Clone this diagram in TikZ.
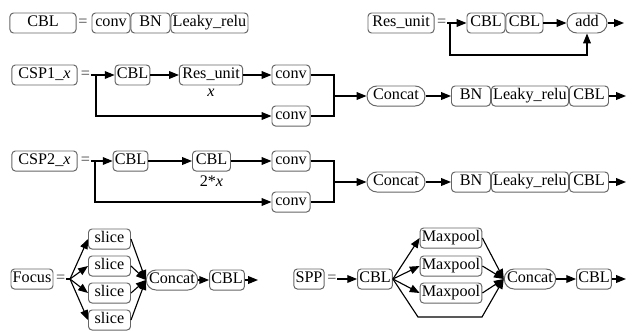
\documentclass[tikz,border=0pt]{standalone}
\usepackage{fontspec}
\setmainfont{Liberation Serif}
\usepackage{tikz}
\usetikzlibrary{arrows.meta, positioning, calc}

\begin{document}
\begin{tikzpicture}[x=0.025cm,y=-0.025cm,line width=.8pt,>={Triangle[length=7pt,width=5.5pt]},
    font=\fontsize{11.5}{13}\selectfont,
    blk/.style={draw=black!60,line width=.7pt,rounded corners=2.5pt,inner xsep=1.2pt,inner ysep=1.5pt,
      minimum height=.5cm,text height=8pt,text depth=2.5pt},
    pill/.style={blk,rounded corners=7pt,inner xsep=2pt},
    eqs/.style={inner sep=0pt,text=black!75}]
    \useasboundingbox (0,0) rectangle (632,331);

    %%%% CBL
    \node (cbl) at (43,23) [blk,minimum width=1.65cm] {CBL}; %
    \node (eq1) at (83,23) [eqs] {=}; %
    \node (conv) at (111,23) [blk,minimum width=.95cm] {conv}; %
    \node (bn) [blk,right=0pt of conv,minimum width=.975cm] {BN}; %
    \node (lrelu) [blk,right=0pt of bn,minimum width=1.9cm] {Leaky\_relu}; %

    %%%% Res_unit
    \node (ru) at (401,23) [blk,minimum width=1.65cm] {Res\_unit}; %
    \node (eq2) [eqs,right=1.5pt of ru] {=}; %
    \coordinate (j0) at (450,23);
    \node (rc1) at (486,23) [blk,minimum width=.95cm] {CBL}; %
    \node (rc2) [blk,right=0pt of rc1,minimum width=.925cm] {CBL}; %
    \node (add) at (587,23) [pill,minimum width=1cm] {add}; %
    \coordinate (o0) at (624,23);
    \coordinate (fb) at (587,55);

    \draw (eq2) -- (j0); %
    \draw [->] (j0) -- (rc1); %
    \draw [->] (rc2) -- (add); %
    \draw [->] (add) -- (o0); %
    \draw [->] (j0) |- (fb) -- (add.south); %

    %%%% CSP1_x
    \node (csp1) at (44.5,75) [blk,minimum width=1.63cm] {CSP1\_\textit{x}}; %
    \node (eq3) [eqs,right=2pt of csp1] {=}; %
    \coordinate (j1) at (96,75);
    \node (cbl1) at (132.5,75) [blk] {CBL}; %
    \node (ru1) at (211,75) [blk,minimum width=1.58cm] {Res\_unit}; %
    \node (xl1) [below=-1pt of ru1] {\textit{x}}; %
    \node (conv1a) at (291,75) [blk,minimum width=.95cm] {conv}; %
    \node (conv1b) at (291,116) [blk,minimum width=.95cm] {conv}; %
    \coordinate (m1) at (334,96);
    \node (cat1) at (396,96) [pill,minimum width=1.45cm] {Concat}; %
    \node (bn1) at (471,96) [blk,minimum width=.975cm] {BN}; %
    \node (lr1) [blk,right=0pt of bn1,minimum width=1.9cm] {Leaky\_relu}; %
    \node (cbl1c) [blk,right=0pt of lr1,minimum width=.975cm] {CBL}; %
    \coordinate (o1) at (626,96);

    \draw (eq3) -- (j1); %
    \draw [->] (j1) -- (cbl1); %
    \draw [->] (cbl1) -- (ru1); %
    \draw [->] (ru1) -- (conv1a); %
    \draw [->] (j1) |- (conv1b); %
    \draw (conv1a) -| (m1) |- (conv1b); %
    \draw [->] (m1) -- (cat1); %
    \draw [->] (cat1) -- (bn1); %
    \draw [->] (cbl1c) -- (o1); %

    %%%% CSP2_x
    \node (csp2) at (44.5,161) [blk,minimum width=1.63cm] {CSP2\_\textit{x}}; %
    \node (eq4) [eqs,right=2pt of csp2] {=}; %
    \coordinate (j2) at (95,161);
    \node (cbl2) at (130.5,161) [blk] {CBL}; %
    \node (cbl2b) at (211.5,161) [blk,minimum width=.95cm] {CBL}; %
    \node (xl2) [below=-1pt of cbl2b] {2*\textit{x}}; %
    \node (conv2a) at (291,161) [blk,minimum width=.95cm] {conv}; %
    \node (conv2b) at (291,202) [blk,minimum width=.95cm] {conv}; %
    \coordinate (m2) at (334,182);
    \node (cat2) at (396,182) [pill,minimum width=1.45cm] {Concat}; %
    \node (bn2) at (471,182) [blk,minimum width=.975cm] {BN}; %
    \node (lr2) [blk,right=0pt of bn2,minimum width=1.9cm] {Leaky\_relu}; %
    \node (cbl2c) [blk,right=0pt of lr2,minimum width=.975cm] {CBL}; %
    \coordinate (o2) at (626,182);

    \draw (eq4) -- (j2); %
    \draw [->] (j2) -- (cbl2); %
    \draw [->] (cbl2) -- (cbl2b); %
    \draw [->] (cbl2b) -- (conv2a); %
    \draw [->] (j2) |- (conv2b); %
    \draw (conv2a) -| (m2) |- (conv2b); %
    \draw [->] (m2) -- (cat2); %
    \draw [->] (cat2) -- (bn2); %
    \draw [->] (cbl2c) -- (o2); %

    %%%% Focus
    \node (focus) at (32,279) [blk] {Focus}; %
    \node (eq5) [eqs,right=1.5pt of focus] {=}; %
    \coordinate (j5) at (70,279);
    \node (sl1) at (109.5,239) [blk,minimum width=1.05cm] {slice}; %
    \node (sl2) at (109.5,266) [blk,minimum width=1.05cm] {slice}; %
    \node (sl3) at (109.5,293) [blk,minimum width=1.05cm] {slice}; %
    \node (sl4) at (109.5,320) [blk,minimum width=1.05cm] {slice}; %
    \node (cat5) at (172,280) [pill] {Concat}; %
    \node (cbl5) at (227,280) [blk] {CBL}; %
    \coordinate (o5) at (258,280);

    \draw (eq5) -- (j5); %
    \draw [->] (j5) -- (sl1.west); %
    \draw [->] (j5) -- (sl2.west); %
    \draw [->] (j5) -- (sl3.west); %
    \draw [->] (j5) -- (sl4.west); %
    \draw [->] (sl1.east) -- (cat5.west); %
    \draw [->] (sl2.east) -- (cat5.west); %
    \draw [->] (sl3.east) -- (cat5.west); %
    \draw [->] (sl4.east) -- (cat5.west); %
    \draw [->] (cat5) -- (cbl5); %
    \draw [->] (cbl5) -- (o5); %

    %%%% SPP
    \node (spp) at (309,279) [blk] {SPP}; %
    \node (eq6) [eqs,right=1.5pt of spp] {=}; %
    \node (cbl6) at (375,279) [blk] {CBL}; %
    \node (mp1) at (451,238) [blk] {Maxpool}; %
    \node (mp2) at (451,266) [blk] {Maxpool}; %
    \node (mp3) at (451,293) [blk] {Maxpool}; %
    \coordinate (b1) at (418,317);
    \coordinate (b2) at (482,317);
    \node (cat6) at (530,279) [pill] {Concat}; %
    \node (cbl6b) at (594,279) [blk] {CBL}; %
    \coordinate (o6) at (626,279);

    \draw [->] (eq6) -- (cbl6); %
    \draw [->] (cbl6.east) -- (mp1.west); %
    \draw [->] (cbl6.east) -- (mp2.west); %
    \draw [->] (cbl6.east) -- (mp3.west); %
    \draw [->] (cbl6.east) -- (b1) -- (b2) -- (cat6.west); %
    \draw [->] (mp1.east) -- (cat6.west); %
    \draw [->] (mp2.east) -- (cat6.west); %
    \draw [->] (mp3.east) -- (cat6.west); %
    \draw [->] (cat6) -- (cbl6b); %
    \draw [->] (cbl6b) -- (o6); %
  \end{tikzpicture}
\end{document}
